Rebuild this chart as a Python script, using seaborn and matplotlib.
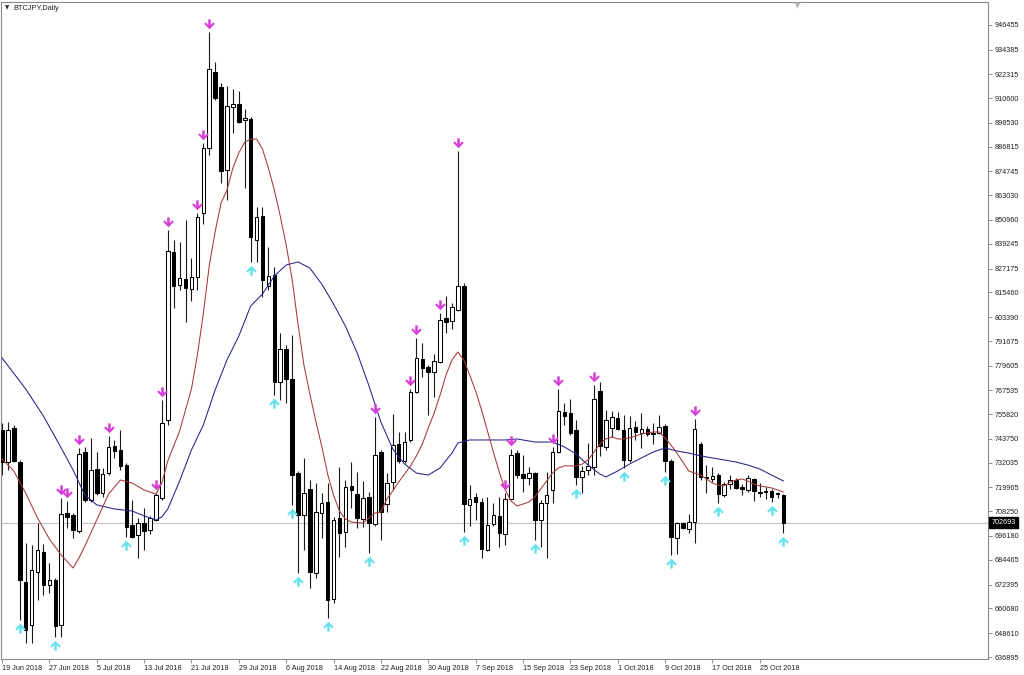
import numpy as np
import pandas as pd
import matplotlib
matplotlib.use("Agg")
import matplotlib.pyplot as plt
import seaborn as sns
from matplotlib.path import Path
from matplotlib.transforms import offset_copy, blended_transform_factory

# ---------------- data ----------------
symbol_title = "BTCJPY,Daily"
start_date = "2018-06-19"

opens = [748100, 732400, 749100, 732400, 673600, 652600, 678500, 688300, 672200, 674600,
         652600, 707400, 706500, 698600, 737300, 713800, 729000, 717200, 727000, 740200,
         738300, 730900, 701600, 696700, 702500, 699100, 704000, 714800, 753000, 835300,
         819100, 822000, 817100, 823000, 854400, 886200, 923400, 916100, 875400, 906300,
         907800, 899900, 900400, 841100, 852900, 818600, 824000, 771600, 787800, 773100,
         727000, 706500, 719200, 678000, 707400, 712800, 665300, 705000, 698100, 720700,
         716700, 704500, 715300, 702000, 737300, 711800, 722600, 741200, 732900, 743200,
         766700, 782900, 778900, 776500, 781400, 802900, 801500, 806900, 818600, 711400,
         715300, 712800, 689300, 702000, 706000, 697100, 714300, 736800, 726500, 724600,
         727000, 704000, 712300, 718700, 737300, 756900, 756400, 748100, 725100, 728500,
         730000, 767200, 739800, 749100, 754000, 748100, 733400, 749600, 746600, 748600,
         746600, 746600, 750000, 732900, 695200, 702500, 699600, 703000, 741200, 724600,
         724100, 726000, 716200, 721600, 723600, 720200, 718700, 724100, 717700, 717700,
         718200, 717200, 716200]
highs = [751500, 752000, 750500, 733400, 692700, 691800, 702500, 692200, 682900, 675600,
         714800, 713300, 707400, 739300, 739800, 744200, 737300, 729500, 745100, 743200,
         748100, 731900, 713800, 705000, 709900, 706000, 717200, 762800, 846000, 841100,
         840200, 850900, 832300, 854400, 888700, 943000, 928300, 918000, 916600, 915100,
         914100, 905300, 901400, 857300, 857300, 837700, 827900, 795600, 789700, 794600,
         728000, 734400, 723600, 722100, 717200, 722100, 705500, 730000, 723600, 732400,
         727500, 723100, 717700, 754500, 738300, 727000, 755900, 747100, 747100, 768200,
         793100, 790700, 779900, 785300, 805400, 813700, 810300, 884700, 820100, 721100,
         717200, 714800, 715300, 712300, 715300, 717200, 738800, 738300, 735800, 730000,
         727500, 713800, 727500, 739800, 768200, 761300, 763300, 753000, 730500, 741700,
         770100, 771600, 757900, 757400, 756900, 755400, 754900, 752500, 756400, 750000,
         751500, 755400, 751000, 733900, 703000, 703000, 706900, 753500, 742200, 730900,
         730000, 727000, 722600, 726000, 724600, 721600, 726000, 724600, 722100, 720200,
         719200, 717700, 716700]
lows = [726000, 728500, 732400, 655000, 643800, 643800, 664800, 667300, 668200, 646700,
        646700, 700100, 695200, 697600, 712800, 712800, 716200, 715300, 726000, 734400,
        728500, 695700, 695200, 685400, 689300, 697100, 703500, 713800, 750500, 807800,
        816700, 801000, 811300, 816700, 849000, 882800, 909700, 869100, 860700, 893600,
        898500, 866600, 830400, 830400, 813200, 816700, 765200, 762800, 761300, 711400,
        678000, 689300, 670700, 675600, 695200, 656000, 663400, 685900, 690800, 709900,
        700100, 700600, 687800, 701100, 694200, 707900, 718700, 731900, 731900, 742200,
        766200, 774000, 755400, 764200, 780900, 795600, 797600, 806400, 698100, 701100,
        704000, 685400, 688800, 701100, 690800, 691800, 713800, 724600, 717700, 721100,
        694200, 690800, 685400, 712300, 736800, 750500, 745600, 721100, 717200, 726000,
        726000, 735400, 738300, 744700, 748100, 729500, 732400, 743200, 739300, 745100,
        741200, 746100, 727500, 686900, 687400, 699600, 697600, 692700, 723600, 717200,
        722600, 712300, 715300, 719200, 719200, 716200, 717700, 713300, 715300, 714300,
        712800, 714800, 697600]
closes = [732400, 748100, 732900, 674600, 650100, 679500, 689300, 672200, 674600, 652100,
          706900, 705500, 699100, 736300, 713800, 728500, 717200, 726500, 739800, 737800,
          730500, 700600, 695700, 702500, 698600, 705000, 716200, 751500, 835800, 818600,
          822500, 817600, 823000, 852400, 886200, 924900, 910700, 874900, 906800, 907800,
          898900, 900900, 842600, 852400, 821600, 823500, 771600, 787800, 773100, 726000,
          706500, 717200, 678500, 707900, 712300, 664800, 704000, 697600, 720200, 718700,
          705000, 714800, 702500, 735800, 707900, 722100, 740700, 732900, 742200, 766700,
          783400, 778500, 776500, 781900, 802000, 801000, 808300, 818600, 711800, 714300,
          712800, 689800, 701600, 706500, 697600, 714300, 735800, 726000, 724600, 727000,
          704000, 712300, 716200, 737300, 757400, 754900, 746600, 725100, 728000, 730500,
          763300, 740200, 753000, 754500, 748600, 733400, 749100, 747100, 748600, 746100,
          746100, 749600, 732900, 695700, 702500, 700100, 703000, 748600, 725100, 725100,
          725600, 716700, 721600, 723600, 719700, 719200, 724600, 718200, 717200, 718200,
          715300, 716700, 702693]

# fast moving average (red), read at bar positions
ma_fast_bar = [0, 2, 4, 6, 8, 10, 12, 13, 14, 16,
               18, 20, 22, 24, 26, 27, 28, 30, 32, 33,
               34, 35, 36, 37, 38, 39, 40, 41, 42, 43,
               44, 45, 46, 47, 48, 49, 50, 51, 52, 53,
               54, 55, 56, 57, 58, 59, 61, 62, 63, 64,
               65, 66, 67, 68, 69, 70, 71, 72, 73, 74,
               75, 76, 77, 78, 79, 80, 81, 82, 83, 84,
               85, 86, 87, 88, 89, 90, 91, 92, 93, 94,
               95, 97, 98, 99, 100, 101, 102, 103, 104, 105,
               106, 108, 110, 111, 112, 113, 114, 115, 116, 117,
               118, 119, 120, 121, 122, 123, 124, 125, 126, 127,
               128, 129, 130, 131, 132]
ma_fast_val = [733900, 728000, 717200, 705000, 694700, 686900, 680500, 685400, 691300, 704000,
               716700, 723600, 722100, 718700, 716700, 722100, 732900, 747600, 768200, 784800,
               804900, 828400, 845100, 859300, 865600, 876400, 883800, 889100, 890600, 890600,
               885700, 876400, 865600, 852900, 838700, 822000, 800000, 779900, 765700, 752500,
               740200, 726500, 716200, 708400, 704500, 703000, 702500, 705000, 707400, 707900,
               714300, 718200, 722600, 726500, 730500, 735400, 741200, 749100, 756400, 765200,
               775000, 782400, 786300, 782400, 775000, 767200, 757900, 747600, 737300, 727500,
               718700, 713300, 710900, 711800, 712800, 715300, 719200, 723100, 727000, 729500,
               730500, 730500, 731400, 733400, 737300, 741200, 743700, 744700, 743700, 743700,
               744200, 746100, 747100, 747100, 744200, 740700, 736800, 732400, 728000, 727000,
               726000, 724100, 722100, 721100, 720700, 722600, 723600, 724100, 723100, 721600,
               720700, 720200, 719700, 718700, 717700]

# slow moving average (blue), read at bar positions
ma_slow_bar = [0, 4, 7, 10, 12, 14, 16, 19, 22, 24,
               26, 27, 28, 30, 32, 34, 36, 38, 40, 42,
               44, 46, 48, 50, 52, 54, 56, 58, 60, 62,
               64, 66, 68, 70, 72, 74, 76, 77, 79, 82,
               85, 87, 90, 93, 95, 97, 99, 101, 102, 104,
               106, 108, 110, 112, 114, 116, 118, 120, 122, 124,
               126, 128, 130, 132]
ma_slow_val = [783400, 768200, 754900, 739300, 728500, 716200, 711400, 709400, 708400, 706000,
               704000, 705500, 709400, 723100, 738300, 750500, 767700, 782400, 794100, 808800,
               814700, 823500, 828900, 830400, 827400, 819600, 809800, 799000, 785800, 769600,
               752000, 738800, 731400, 727000, 726000, 729500, 736800, 741700, 743200, 743200,
               743200, 743700, 742200, 742200, 739800, 736300, 730900, 726500, 725100, 728000,
               731400, 734400, 737300, 739300, 737800, 736800, 735400, 734400, 733400, 732400,
               730900, 729000, 726000, 723100]

sell_signal_bars = [10, 11, 13, 18, 26, 27, 28, 33, 34, 35, 63, 69, 70, 74, 77, 85, 86, 93, 94, 100, 117]
buy_signal_bars = [3, 9, 21, 42, 46, 49, 50, 55, 62, 78, 90, 97, 105, 112, 113, 121, 130, 132]

date_tick_labels = ["19 Jun 2018", "27 Jun 2018", "5 Jul 2018", "13 Jul 2018", "21 Jul 2018",
                    "29 Jul 2018", "6 Aug 2018", "14 Aug 2018", "22 Aug 2018", "30 Aug 2018",
                    "7 Sep 2018", "15 Sep 2018", "23 Sep 2018", "1 Oct 2018", "9 Oct 2018",
                    "17 Oct 2018", "25 Oct 2018"]
price_ticks = [946455, 934385, 922315, 910600, 898530, 886815, 874745, 863030, 850960,
               839245, 827175, 815460, 803390, 791675, 779605, 767535, 755820, 743750,
               732035, 719965, 708250, 696180, 684465, 672395, 660680, 648610, 636895]
last_price = 702693

# ---------------- style ----------------
sns.set_theme(style="white")
plt.rcParams['font.family'] = ['Liberation Sans', 'DejaVu Sans']

fig = plt.figure(figsize=(10.24, 6.75), dpi=100)
W, H = 1024, 675
ax = fig.add_axes([1 / W, 1 - 659 / H, 987 / W, 657 / H])
ax.set_facecolor("white")

o = np.array(opens, float)
h = np.array(highs, float)
l = np.array(lows, float)
c = np.array(closes, float)
idx = np.arange(len(o))
dates = pd.date_range(start_date, periods=len(o), freq="D")

up = c >= o
body_lo = np.minimum(o, c)
body_h = np.maximum(np.abs(c - o), 300)

# current price line
ax.axhline(last_price, color="#c4c4c4", lw=0.8, zorder=1)

# wicks and bodies
ax.vlines(idx, l, h, color="#1a1a1a", lw=0.8, zorder=2)
ax.bar(idx[up], body_h[up], bottom=body_lo[up], width=0.6, color="white",
       edgecolor="black", linewidth=0.75, zorder=3)
ax.bar(idx[~up], body_h[~up], bottom=body_lo[~up], width=0.6, color="black",
       edgecolor="black", linewidth=0.75, zorder=3)

# moving averages
sns.lineplot(x=ma_slow_bar, y=ma_slow_val, ax=ax, color="#23238c", linewidth=0.75, zorder=4)
sns.lineplot(x=ma_fast_bar, y=ma_fast_val, ax=ax, color="#a83838", linewidth=0.75, zorder=4)

# arrow markers
down_verts = [(-0.15, 0.6), (0.15, 0.6), (0.15, -0.05), (0.45, 0.25), (0.62, 0.08),
              (0.0, -0.56), (-0.62, 0.08), (-0.45, 0.25), (-0.15, -0.05), (-0.15, 0.6)]
down_path = Path(down_verts, closed=True)
up_path = Path([(x, -y) for x, y in down_verts], closed=True)

tr_up = offset_copy(ax.transData, fig=fig, x=0, y=8, units="dots")
tr_dn = offset_copy(ax.transData, fig=fig, x=0, y=-8, units="dots")
sb = np.array(sell_signal_bars)
bb = np.array(buy_signal_bars)
ax.scatter(sb, h[sb], marker=down_path, s=58, color="#d83ed8", linewidths=0,
           transform=tr_up, zorder=5, clip_on=False)
ax.scatter(bb, l[bb], marker=up_path, s=58, color="#66e2ee", linewidths=0,
           transform=tr_dn, zorder=5, clip_on=False)

# limits (chart area with right shift)
ax.set_xlim(-0.17, 166.55)
ax.set_ylim(635922, 957720)

# x ticks
label_dates = [pd.Timestamp(s) for s in date_tick_labels]
tick_pos = [int(np.where(dates == d)[0][0]) for d in label_dates]
ax.set_xticks(tick_pos)
ax.set_xticklabels(date_tick_labels)
for lbl in ax.get_xticklabels():
    lbl.set_ha("left")
ax.tick_params(axis="x", which="both", bottom=True, length=3.2, width=0.6,
               color="#808080", pad=1.2, labelsize=5.2, labelcolor="#202020")

# y ticks on right
ax.yaxis.tick_right()
ax.set_yticks(price_ticks)
ax.set_yticklabels([str(v) for v in price_ticks])
ax.tick_params(axis="y", which="both", right=True, left=False, length=3, width=0.6,
               color="#808080", pad=1.5, labelsize=5.2, labelcolor="#202020")
ax.set_xlabel("")
ax.set_ylabel("")

for sp in ax.spines.values():
    sp.set_visible(True)
    sp.set_color("#8a8a8a")
    sp.set_linewidth(0.8)

# last price label box
bt = blended_transform_factory(ax.transAxes, ax.transData)
ax.text(1.0035, last_price, str(last_price), transform=bt, ha="left", va="center",
        fontsize=5.2, color="white", zorder=6,
        bbox=dict(boxstyle="square,pad=0.28", fc="black", ec="black"), clip_on=False)

# title
fig.text(5 / W, 1 - 8 / H, "\u25BC", fontsize=4, color="#303030", va="center", ha="left",
         family=["DejaVu Sans"])
fig.text(13 / W, 1 - 8 / H, symbol_title, fontsize=5.3, color="#202020", va="center", ha="left")

# chart shift marker at top
ax.plot([len(o) + 1.3], [0.995], marker="v", color="#b8b8b8", ms=5, mec="none",
        transform=blended_transform_factory(ax.transData, ax.transAxes), clip_on=False, zorder=6)

fig.savefig("out.png", dpi=100, facecolor="white")
